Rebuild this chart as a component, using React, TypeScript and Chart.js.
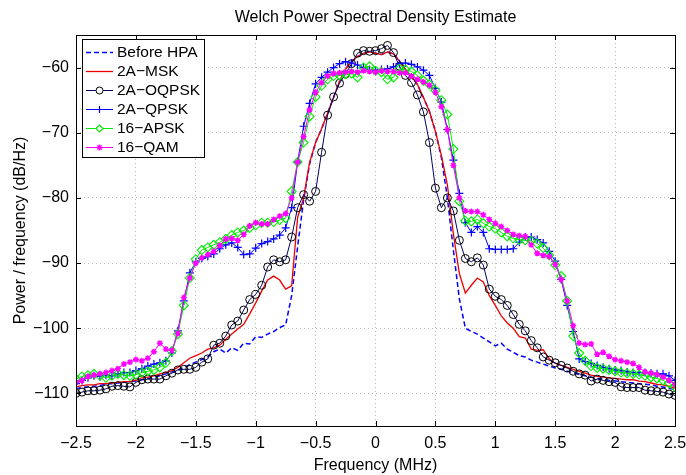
import React, { useEffect, useRef } from 'react';
import { Chart, registerables } from 'chart.js';

Chart.register(...registerables);

const FONT = '"Liberation Sans", Arial, Helvetica, sans-serif';

const chartTitle = 'Welch Power Spectral Density Estimate';
const xAxisTitle = 'Frequency (MHz)';
const yAxisTitle = 'Power / frequency (dB/Hz)';

const seriesNames = ['Before HPA', '2A\u2212MSK', '2A\u2212OQPSK', '2A\u2212QPSK', '16\u2212APSK', '16\u2212QAM'];

const xTickValues = [-2.5, -2, -1.5, -1, -0.5, 0, 0.5, 1, 1.5, 2, 2.5];
const yTickValues = [-110, -100, -90, -80, -70, -60];

const freqMHz = [
  -2.5, -2.45, -2.4, -2.35, -2.3, -2.25, -2.2, -2.15, -2.1, -2.05,
  -2.0, -1.95, -1.9, -1.85, -1.8, -1.75, -1.7, -1.65, -1.6, -1.55,
  -1.5, -1.45, -1.4, -1.35, -1.3, -1.25, -1.2, -1.15, -1.1, -1.05,
  -1.0, -0.95, -0.9, -0.85, -0.8, -0.75, -0.7, -0.65, -0.6, -0.55,
  -0.5, -0.45, -0.4, -0.35, -0.3, -0.25, -0.2, -0.15, -0.1, -0.05,
  0,
  0.05, 0.1, 0.15, 0.2, 0.25, 0.3, 0.35, 0.4, 0.45, 0.5,
  0.55, 0.6, 0.65, 0.7, 0.75, 0.8, 0.85, 0.9, 0.95, 1.0,
  1.05, 1.1, 1.15, 1.2, 1.25, 1.3, 1.35, 1.4, 1.45, 1.5,
  1.55, 1.6, 1.65, 1.7, 1.75, 1.8, 1.85, 1.9, 1.95, 2.0,
  2.05, 2.1, 2.15, 2.2, 2.25, 2.3, 2.35, 2.4, 2.45, 2.5,
];

const beforeHPA = [
  -109.3, -109.1, -109.0, -108.9, -108.8, -108.6, -108.5, -108.4, -108.3, -108.2,
  -108.1, -107.9, -107.7, -107.5, -107.3, -107.0, -106.7, -106.4, -106.0, -105.6,
  -105.2, -104.8, -104.4, -103.6, -103.2, -103.8, -103.0, -103.4, -102.3, -102.4,
  -101.3, -101.4, -100.9, -100.5, -99.9, -99.5, -95.0, -87.5, -80.3, -74.8,
  -71.5, -69.4, -67.0, -64.6, -62.1, -60.2, -59.1, -58.3, -57.8, -57.6,
  -57.8,
  -58.0, -57.6, -57.9, -59.0, -60.3, -61.3, -62.6, -64.6, -66.7, -69.8,
  -73.8, -80.0, -88.0, -95.5, -100.0, -100.5, -100.9, -101.5, -102.1, -102.7,
  -102.3, -103.2, -103.7, -104.2, -104.4, -104.9, -105.2, -105.5, -105.8, -106.1,
  -106.3, -106.6, -106.8, -107.1, -107.3, -107.5, -107.7, -107.8, -108.0, -108.1,
  -108.2, -108.3, -108.4, -108.5, -108.6, -108.7, -108.9, -109.0, -109.2, -109.4,
];

const msk2A = [
  -109.0, -108.8, -108.7, -108.7, -108.5, -108.5, -108.4, -108.3, -108.2, -108.2,
  -108.0, -107.6, -107.5, -107.3, -107.0, -106.8, -106.5, -106.0, -105.3, -104.6,
  -104.2, -103.8, -103.2, -103.0, -102.6, -101.7, -100.9, -100.1, -99.4, -97.8,
  -96.1, -94.3, -92.6, -92.0, -92.6, -94.0, -93.5, -83.0, -80.0, -74.5,
  -71.5, -69.4, -67.0, -64.6, -62.1, -60.2, -59.1, -58.3, -57.8, -57.6,
  -57.8,
  -58.0, -57.6, -57.9, -59.0, -60.3, -61.3, -62.6, -64.6, -66.7, -69.8,
  -73.5, -78.0, -85.5, -91.6, -94.6, -93.4, -92.3, -92.9, -95.0, -96.5,
  -98.1, -99.2, -100.0, -101.3, -101.5, -103.2, -103.4, -103.3, -104.7, -105.4,
  -105.7, -106.0, -106.3, -106.6, -106.9, -107.2, -107.4, -107.5, -107.6, -107.7,
  -107.8, -107.9, -107.9, -108.1, -108.2, -108.4, -108.6, -108.7, -108.9, -109.2,
];

const oqpsk2A = [
  -110.0, -109.8, -109.6, -109.6, -109.5, -109.3, -108.9, -108.8, -108.9, -109.0,
  -108.3, -107.9, -107.8, -107.8, -107.8, -107.3, -106.9, -106.4, -106.3, -106.3,
  -106.0, -105.2, -104.7, -102.6, -102.3, -101.2, -99.5, -98.9, -97.2, -95.6,
  -94.8, -93.4, -90.6, -89.5, -89.8, -89.5, -86.0, -81.5, -79.5, -80.5,
  -79.0, -73.0, -67.3, -64.5, -62.4, -61.0, -59.4, -57.8, -57.4, -57.5,
  -57.4,
  -57.1, -56.6, -57.7, -59.8, -61.2, -62.3, -64.2, -66.8, -71.5, -78.5,
  -81.5, -80.0, -82.0, -86.5, -89.3, -89.8, -89.2, -90.3, -94.0, -95.1,
  -95.6, -96.5, -97.9, -99.4, -100.4, -101.9, -103.0, -104.4, -104.9, -105.3,
  -105.7, -106.1, -106.6, -107.0, -107.2, -108.1, -107.8, -108.0, -108.2, -108.3,
  -109.0, -109.1, -109.1, -109.1, -109.5, -109.6, -109.7, -109.8, -110.1, -110.3,
];

const qpsk2A = [
  -108.5, -108.0, -107.6, -107.3, -107.4, -107.2, -107.3, -107.0, -106.8, -106.8,
  -106.5, -106.2, -105.8, -105.5, -105.3, -105.0, -103.8, -100.4, -95.8, -91.5,
  -89.8, -89.3, -89.0, -88.6, -87.8, -87.2, -86.9, -87.6, -88.7, -88.6,
  -87.7, -87.0, -86.7, -86.3, -85.7, -84.6, -81.5, -74.5, -69.0, -65.5,
  -62.5, -61.5, -60.7, -60.0, -59.4, -59.1, -59.3, -59.6, -60.0, -60.3,
  -60.4,
  -60.3, -60.2, -59.9, -59.4, -59.3, -59.5, -59.9, -60.4, -61.2, -63.2,
  -65.3, -69.5, -74.2, -79.3, -83.8, -85.3, -84.4, -85.3, -87.8, -87.9,
  -87.9, -87.9, -87.8, -86.8, -86.0, -86.0, -86.4, -86.9, -88.2, -89.7,
  -92.5, -96.5, -100.5, -104.7, -105.1, -105.4, -105.7, -106.0, -106.2, -106.4,
  -106.5, -106.7, -106.8, -106.8, -106.8, -106.9, -107.0, -107.0, -107.3, -108.0,
];

const apsk16 = [
  -107.8, -107.4, -107.2, -107.0, -107.3, -107.6, -107.3, -107.0, -107.2, -107.3,
  -107.1, -106.8, -106.6, -106.4, -106.0, -105.3, -103.5, -100.9, -96.5, -92.3,
  -89.4, -88.0, -87.6, -87.2, -86.8, -86.3, -85.7, -85.3, -85.0, -84.6,
  -84.2, -83.8, -83.8, -83.7, -83.4, -83.1, -79.0, -74.5, -71.5, -67.5,
  -64.5, -62.8, -61.8, -61.3, -61.2, -61.0, -60.9, -61.5, -60.0, -59.8,
  -60.5,
  -60.7, -61.8, -61.5, -60.2, -60.3, -60.6, -61.2, -62.0, -62.6, -63.5,
  -65.0, -67.2, -72.5, -80.5, -83.5, -83.6, -83.3, -83.9, -84.4, -84.7,
  -85.3, -85.9, -86.2, -86.4, -86.5, -86.6, -87.0, -87.7, -88.8, -90.3,
  -92.0, -95.8, -101.2, -103.8, -105.0, -105.8, -106.1, -106.2, -106.4, -106.6,
  -106.8, -106.9, -107.0, -107.1, -107.3, -107.5, -107.7, -108.0, -108.4, -109.0,
];

const qam16 = [
  -108.3, -108.0, -107.4, -107.2, -107.0, -106.8, -106.5, -106.2, -105.5, -105.2,
  -104.8, -105.0, -104.6, -103.6, -102.3, -103.2, -103.4, -100.8, -95.3, -92.3,
  -90.0, -89.2, -88.7, -88.2, -87.3, -86.3, -86.2, -86.5, -85.6, -84.3,
  -83.8, -84.0, -84.0, -83.3, -82.8, -82.4, -80.0, -74.5, -70.6, -66.5,
  -63.8, -62.3, -61.3, -60.9, -60.8, -60.7, -60.6, -60.7, -60.5, -60.6,
  -60.7,
  -60.5, -60.6, -60.6, -60.8, -60.8, -61.3, -61.8, -62.2, -62.7, -63.8,
  -66.0, -69.5, -75.0, -80.0, -82.0, -82.1, -82.1, -82.6, -83.3, -83.9,
  -84.4, -85.0, -85.6, -85.8, -85.9, -87.2, -88.5, -88.8, -89.0, -90.2,
  -92.5, -95.8, -99.6, -102.3, -102.5, -102.4, -104.0, -103.7, -104.3, -104.8,
  -105.0, -105.2, -105.4, -106.0, -106.7, -106.9, -107.1, -107.5, -108.0, -108.6,
];

const seriesValues = [beforeHPA, msk2A, oqpsk2A, qpsk2A, apsk16, qam16];

type SeriesStyle = {
  line: string;
  width: number;
  dash: number[];
  marker: 'none' | 'circle' | 'cross' | 'rectRot' | 'star';
  markerColor: string;
  radius: number;
  markerWidth: number;
};

const seriesStyles: SeriesStyle[] = [
  { line: '#0000ff', width: 1.5, dash: [5, 3], marker: 'none', markerColor: '#0000ff', radius: 0, markerWidth: 1 },
  { line: '#ee0000', width: 1.3, dash: [], marker: 'none', markerColor: '#ee0000', radius: 0, markerWidth: 1 },
  { line: '#000066', width: 1, dash: [], marker: 'circle', markerColor: '#000000', radius: 4, markerWidth: 1 },
  { line: '#0000ff', width: 1, dash: [], marker: 'cross', markerColor: '#0000ff', radius: 4, markerWidth: 1.2 },
  { line: '#00ee00', width: 1, dash: [], marker: 'rectRot', markerColor: '#00ee00', radius: 4.5, markerWidth: 1.1 },
  { line: '#ff00ff', width: 1, dash: [], marker: 'star', markerColor: '#ff00ff', radius: 3, markerWidth: 1.4 },
];

const minusFmt = (v: number | string) => String(v).replace('-', '\u2212');

function drawMarker(ctx: CanvasRenderingContext2D, s: SeriesStyle, x: number, y: number) {
  if (s.marker === 'none') return;
  const r = s.radius;
  ctx.save();
  ctx.setLineDash([]);
  ctx.strokeStyle = s.markerColor;
  ctx.lineWidth = s.markerWidth;
  ctx.beginPath();
  if (s.marker === 'circle') {
    ctx.fillStyle = '#ffffff';
    ctx.arc(x, y, r, 0, Math.PI * 2);
    ctx.fill();
  } else if (s.marker === 'cross') {
    ctx.moveTo(x - r, y); ctx.lineTo(x + r, y);
    ctx.moveTo(x, y - r); ctx.lineTo(x, y + r);
  } else if (s.marker === 'rectRot') {
    ctx.fillStyle = '#ffffff';
    ctx.moveTo(x, y - r); ctx.lineTo(x + r, y); ctx.lineTo(x, y + r); ctx.lineTo(x - r, y); ctx.closePath();
    ctx.fill();
  } else if (s.marker === 'star') {
    ctx.moveTo(x - r, y); ctx.lineTo(x + r, y);
    ctx.moveTo(x, y - r); ctx.lineTo(x, y + r);
    const d = r * Math.SQRT1_2;
    ctx.moveTo(x - d, y - d); ctx.lineTo(x + d, y + d);
    ctx.moveTo(x - d, y + d); ctx.lineTo(x + d, y - d);
  }
  ctx.stroke();
  ctx.restore();
}

const framePlugin = {
  id: 'matlabFrame',
  afterDatasetsDraw(chart: any) {
    const { ctx, chartArea: a, scales } = chart;
    ctx.save();
    ctx.strokeStyle = '#000';
    ctx.lineWidth = 1;
    ctx.setLineDash([]);
    ctx.beginPath();
    const tl = 5;
    scales.x.ticks.forEach((t: any) => {
      const px = Math.round(scales.x.getPixelForValue(t.value)) + 0.5;
      ctx.moveTo(px, a.bottom); ctx.lineTo(px, a.bottom - tl);
      ctx.moveTo(px, a.top); ctx.lineTo(px, a.top + tl);
    });
    scales.y.ticks.forEach((t: any) => {
      const py = Math.round(scales.y.getPixelForValue(t.value)) + 0.5;
      ctx.moveTo(a.left, py); ctx.lineTo(a.left + tl, py);
      ctx.moveTo(a.right, py); ctx.lineTo(a.right - tl, py);
    });
    ctx.stroke();
    ctx.strokeRect(Math.round(a.left) + 0.5, Math.round(a.top) + 0.5, Math.round(a.right - a.left), Math.round(a.bottom - a.top));
    ctx.restore();
  },
};

const legendPlugin = {
  id: 'matlabLegend',
  afterDraw(chart: any) {
    const { ctx, chartArea: a } = chart;
    const x0 = Math.round(a.left) + 6;
    const y0 = Math.round(a.top) + 4;
    const w = 122;
    const h = 118;
    ctx.save();
    ctx.fillStyle = '#ffffff';
    ctx.fillRect(x0, y0, w, h);
    ctx.strokeStyle = '#000';
    ctx.lineWidth = 1;
    ctx.strokeRect(x0 + 0.5, y0 + 0.5, w, h);
    seriesNames.forEach((name, i) => {
      const s = seriesStyles[i];
      const cy = y0 + 13.5 + i * 19;
      ctx.save();
      ctx.strokeStyle = s.line;
      ctx.lineWidth = s.width;
      ctx.setLineDash(s.dash);
      ctx.beginPath();
      ctx.moveTo(x0 + 4, cy);
      ctx.lineTo(x0 + 31, cy);
      ctx.stroke();
      ctx.restore();
      drawMarker(ctx, { ...s, radius: Math.min(s.radius, 3.5) }, x0 + 17.5, cy);
      ctx.fillStyle = '#000';
      ctx.font = `15.5px ${FONT}`;
      ctx.textBaseline = 'middle';
      ctx.textAlign = 'left';
      ctx.fillText(name, x0 + 35, cy + 0.5);
    });
    ctx.restore();
  },
};

export default function App() {
  const canvasRef = useRef<HTMLCanvasElement | null>(null);

  useEffect(() => {
    if (!canvasRef.current) return;
    const datasets = seriesNames.map((name, i) => {
      const s = seriesStyles[i];
      return {
        label: name,
        data: freqMHz.map((f, k) => ({ x: f, y: seriesValues[i][k] })),
        borderColor: s.line,
        borderWidth: s.width,
        borderDash: s.dash,
        pointStyle: s.marker === 'none' ? 'circle' : s.marker,
        pointRadius: s.radius,
        pointBorderColor: s.markerColor,
        pointBackgroundColor: 'rgba(0,0,0,0)',
        pointBorderWidth: s.markerWidth,
        fill: false,
        tension: 0,
        order: seriesNames.length - i,
      };
    });

    const chart = new Chart(canvasRef.current, {
      type: 'line',
      data: { datasets },
      options: {
        animation: false,
        responsive: true,
        maintainAspectRatio: false,
        events: [],
        layout: { padding: { left: 0, right: 11, top: 0, bottom: 0 } },
        plugins: {
          legend: { display: false },
          tooltip: { enabled: false },
          title: {
            display: true,
            text: chartTitle,
            fullSize: false,
            color: '#000',
            font: { family: FONT, size: 16, weight: 'normal' },
            padding: { top: 8, bottom: 7.8 },
          },
        },
        scales: {
          x: {
            type: 'linear',
            min: -2.5,
            max: 2.5,
            afterBuildTicks: (scale: any) => { scale.ticks = xTickValues.map((v) => ({ value: v })); },
            afterFit: (scale: any) => {
              scale.height = 49;
              scale.paddingLeft = 0;
              scale.paddingRight = 0;
            },
            ticks: {
              color: '#000',
              padding: 8,
              maxRotation: 0,
              minRotation: 0,
              autoSkip: false,
              font: { family: FONT, size: 16 },
              callback: (v: any) => minusFmt(v),
            },
            grid: { drawTicks: false, color: '#b8b8b8', lineWidth: 1 },
            border: { display: false, dash: [1, 3] },
            title: {
              display: true,
              text: xAxisTitle,
              color: '#000',
              font: { family: FONT, size: 16 },
              padding: { top: 0, bottom: 0 },
            },
          },
          y: {
            type: 'linear',
            min: -115,
            max: -55,
            afterBuildTicks: (scale: any) => { scale.ticks = yTickValues.map((v) => ({ value: v })); },
            afterFit: (scale: any) => {
              scale.width = 76;
              scale.paddingTop = 0;
              scale.paddingBottom = 0;
            },
            ticks: {
              color: '#000',
              padding: 7,
              autoSkip: false,
              font: { family: FONT, size: 16 },
              callback: (v: any) => minusFmt(v),
            },
            grid: { drawTicks: false, color: '#b8b8b8', lineWidth: 1 },
            border: { display: false, dash: [1, 3] },
            title: {
              display: true,
              text: yAxisTitle,
              color: '#000',
              font: { family: FONT, size: 16 },
              padding: { top: 11, bottom: 0 },
            },
          },
        },
      },
      plugins: [framePlugin, legendPlugin],
    });
    return () => chart.destroy();
  }, []);

  return (
    <div style={{ position: 'absolute', left: 0, top: 0, width: 686, height: 475, background: '#fff' }}>
      <canvas ref={canvasRef} />
    </div>
  );
}
